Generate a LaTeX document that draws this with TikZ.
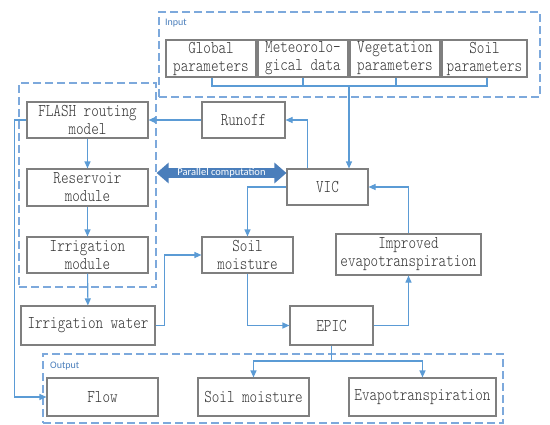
\documentclass[tikz,border=0pt]{standalone}
\usepackage{fontspec}
\usetikzlibrary{arrows.meta,calc}
\newfontfamily\boxfont[Extension=.otf,FakeStretch=0.8]{lmmonolt10-regular}
\newfontfamily\lblfont{Carlito}
\definecolor{lineblue}{HTML}{5B9BD5}
\definecolor{dashblue}{HTML}{7DA9DC}
\definecolor{parblue}{HTML}{4A7EBB}
\definecolor{boxgray}{HTML}{7F7F7F}
\definecolor{txtgray}{HTML}{333333}
\tikzset{
  box/.style={draw=boxgray, line width=1.1pt, rectangle, inner sep=0pt, align=center,
    text=txtgray, font=\boxfont\fontsize{18}{18}\selectfont},
  arr/.style={draw=lineblue, line width=1.1pt, -{Triangle[length=7pt,width=6pt]}},
  ln/.style={draw=lineblue, line width=1.1pt},
  grp/.style={draw=dashblue, line width=1.2pt, dash pattern=on 8pt off 4pt},
  grplbl/.style={text=parblue, font=\lblfont\fontsize{10}{10}\selectfont, anchor=west, inner sep=0pt},
  parallel/.style={draw=parblue, line width=10pt, {Triangle[length=12pt,width=20pt]}-{Triangle[length=12pt,width=20pt]}}
}
\begin{document}
\begin{tikzpicture}[x=1pt,y=-1pt]
\useasboundingbox (0,0) rectangle (550,424);
% groups
\node[grp, rectangle, minimum width=381pt, minimum height=85pt, inner sep=0pt] (ingrp) at (349.5,54.5) {};
\node[grp, rectangle, minimum width=137pt, minimum height=204pt, inner sep=0pt] (simgrp) at (87.5,185) {};
\node[grp, rectangle, minimum width=460pt, minimum height=69pt, inner sep=0pt] (outgrp) at (273,388.5) {};
\node[grplbl] (inlbl) at (165,23) {Input};
\node[grplbl] (outlbl) at (50,366) {Output};
% input boxes
\node[box, minimum width=90pt, minimum height=37pt] (glob) at (211,58.5) {Global\\parameters};
\node[box, minimum width=90pt, minimum height=37pt] (met) at (303,58.5) {Meteorolo-\\gical data};
\node[box, minimum width=90pt, minimum height=37pt] (veg) at (395,58.5) {Vegetation\\parameters};
\node[box, minimum width=85pt, minimum height=37pt] (soilp) at (484.5,58.5) {Soil\\parameters};
% main boxes
\node[box, minimum width=121pt, minimum height=36pt] (flash) at (87.5,120) {FLASH routing\\model};
\node[box, minimum width=121pt, minimum height=37pt] (res) at (87.5,187.5) {Reservoir\\module};
\node[box, minimum width=121pt, minimum height=36pt] (irrm) at (87.5,255) {Irrigation\\module};
\node[box, minimum width=83pt, minimum height=36pt] (runoff) at (243.5,120) {Runoff};
\node[box, minimum width=81pt, minimum height=36pt] (vic) at (327.5,187) {VIC};
\node[box, minimum width=91pt, minimum height=36pt] (sm) at (247.5,255) {Soil\\moisture};
\node[box, minimum width=145pt, minimum height=41pt] (imp) at (408.5,254.5) {Improved\\evapotranspiration};
\node[box, minimum width=134pt, minimum height=39pt] (iw) at (88,325.5) {Irrigation water};
\node[box, minimum width=83pt, minimum height=39pt] (epic) at (331.5,325.5) {EPIC};
\node[box, minimum width=111pt, minimum height=38pt] (flow) at (102.5,397) {Flow};
\node[box, minimum width=111pt, minimum height=38pt] (smo) at (253.5,397) {Soil moisture};
\node[box, minimum width=147pt, minimum height=38pt] (et) at (422.5,397) {Evapotranspiration};
% input bus
\coordinate (busl) at (212,86);
\coordinate (busr) at (487,86);
\coordinate (busm) at (349,86);
\draw[ln] (glob.south -| busl) -- (busl) -- (busr) -- (soilp.south -| busr);
\draw[ln] (met.south) -- (met.south |- busl);
\draw[ln] (veg.south -| 396,0) -- (396,86);
\draw[arr] (busm) -- (busm |- vic.north);
% connectors
\draw[arr] ([xshift=21pt]vic.north west) |- (runoff.east);
\draw[arr] (runoff.west) -- (flash.east);
\draw[arr] (flash) -- (res);
\draw[arr] (res) -- (irrm);
\draw[arr] (irrm) -- (iw);
\draw[arr] (flash.west) -- ++(-12,0) |- (flow.west);
\draw[arr] (iw.east) -- ++(9,0) |- (sm.west);
\draw[arr] (vic.west) -| (sm.north);
\draw[arr] (sm.south) |- (epic.west);
\draw[arr] (epic.east) -| (imp.south);
\draw[arr] (imp.north) |- (vic.east);
\coordinate (split) at (331.5,361);
\draw[arr] (epic.south) -- (split) -| (smo.north);
\draw[arr] (split) -| (et.north);
% parallel computation
\draw[parallel] (simgrp.east |- 0,173) -- node[text=white, font=\lblfont\fontsize{10.5}{10.5}\selectfont, inner sep=0pt] (parlbl) {Parallel computation} ([yshift=14pt]vic.west);
\end{tikzpicture}
\end{document}
